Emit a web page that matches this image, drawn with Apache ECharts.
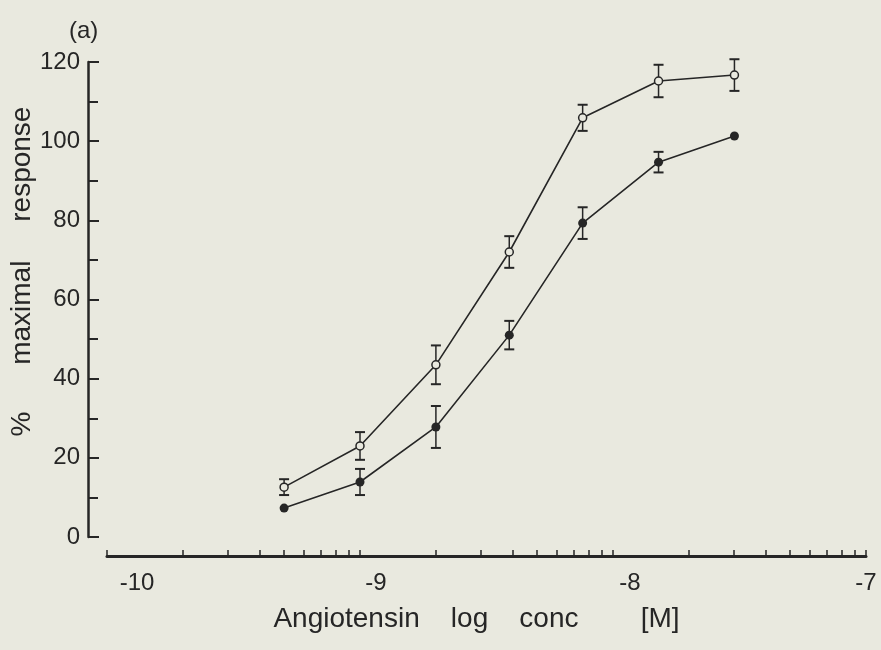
<!DOCTYPE html>
<html>
<head>
<meta charset="utf-8">
<script src="https://cdn.jsdelivr.net/npm/echarts@6/dist/echarts.min.js"></script>
<style>
  html, body { margin: 0; padding: 0; background: #e9e9df; }
  #chart { width: 881px; height: 650px; }
</style>
</head>
<body>
<div id="chart"></div>
<script>
// ---- data ----
const xLabelValues = [-10, -9, -8, -7];
const xTickLabels = ['-10', '-9', '-8', '-7'];
const decades = [-10, -9, -8];
const logConc = [-9.30, -9.00, -8.70, -8.41, -8.12, -7.82, -7.52];
const openMean = [12.6, 23.0, 43.5, 72.0, 105.9, 115.2, 116.7];
const openSem = [2.0, 3.5, 4.9, 4.0, 3.3, 4.1, 4.0];
const filledMean = [7.3, 13.9, 27.8, 51.0, 79.3, 94.7, 101.3];
const filledSem = [0, 3.3, 5.3, 3.6, 4.0, 2.6, 0];

// log-scale minor tick positions (1..9 x 10^d)
const xTickValues = [];
decades.forEach(d => { for (let k = 1; k <= 9; k++) xTickValues.push(d + Math.log10(k)); });
xTickValues.push(-7);

const ink = '#262626';
const bg = '#e9e9df';
const font = '"Liberation Sans", Arial, sans-serif';

function errData(means, sems) {
  return logConc.map((x, i) => [x, means[i] - sems[i], means[i] + sems[i], sems[i]]);
}

function renderErr(params, api) {
  if (api.value(3) <= 0) return null;
  const x = api.value(0);
  const lo = api.coord([x, api.value(1)]);
  const hi = api.coord([x, api.value(2)]);
  const w = 5;
  const style = { stroke: ink, lineWidth: 2 };
  return {
    type: 'group',
    children: [
      { type: 'line', shape: { x1: lo[0], y1: lo[1], x2: hi[0], y2: hi[1] }, style: { stroke: ink, lineWidth: 1.5 } },
      { type: 'line', shape: { x1: hi[0] - w, y1: hi[1], x2: hi[0] + w, y2: hi[1] }, style },
      { type: 'line', shape: { x1: lo[0] - w, y1: lo[1], x2: lo[0] + w, y2: lo[1] }, style }
    ]
  };
}

const labelShift = { '-10': 30, '-9': 16, '-8': 17, '-7': 0 };
const rich = {};
Object.keys(labelShift).forEach((k, i) => {
  rich['s' + i] = { fontSize: 24, fontFamily: font, color: ink, padding: [0, 0, 0, labelShift[k] * 2] };
});

const chart = echarts.init(document.getElementById('chart'));
chart.setOption({
  backgroundColor: bg,
  animation: false,
  title: {
    text: '(a)', left: 64, top: 14,
    textStyle: { fontSize: 24, fontWeight: 'normal', fontFamily: font, color: ink }
  },
  grid: { left: 107, right: 15, top: 62, bottom: 113, outerBoundsMode: 'none', containLabel: false },
  xAxis: {
    type: 'value', min: -10, max: -7, interval: 1, offset: 19,
    name: 'Angiotensin    log    conc        [M]',
    nameLocation: 'middle', nameGap: 49, nameMoveOverlap: false,
    nameTextStyle: { fontSize: 28, fontFamily: font, color: ink, padding: [0, 20, 0, 0] },
    axisLine: { show: true, onZero: false, lineStyle: { color: ink, width: 3, cap: 'round' } },
    axisTick: { show: true, inside: true, length: 6, customValues: xTickValues, lineStyle: { color: ink, width: 1.5 } },
    axisLabel: {
      show: true, margin: 15, customValues: xLabelValues,
      formatter: v => { const i = xLabelValues.indexOf(Math.round(v)); return '{s' + i + '|' + xTickLabels[i] + '}'; },
      rich: rich
    },
    splitLine: { show: false }
  },
  yAxis: {
    type: 'value', min: 0, max: 120, interval: 20, offset: 19,
    name: '%      maximal     response',
    nameLocation: 'middle', nameGap: 52, nameRotate: 90, nameMoveOverlap: false,
    nameTextStyle: { fontSize: 28, fontFamily: font, color: ink, padding: [0, 0, 0, 56] },
    axisLine: { show: true, onZero: false, lineStyle: { color: ink, width: 2.5 } },
    axisTick: { show: true, inside: true, length: 11, lineStyle: { color: ink, width: 2 } },
    minorTick: { show: true, splitNumber: 2, length: 10, lineStyle: { color: ink, width: 2 } },
    axisLabel: { margin: 8, fontSize: 24, fontFamily: font, color: ink },
    splitLine: { show: false }
  },
  series: [
    {
      type: 'custom', name: 'open err', renderItem: renderErr,
      data: errData(openMean, openSem), encode: { x: 0, y: [1, 2] }, z: 1
    },
    {
      type: 'custom', name: 'filled err', renderItem: renderErr,
      data: errData(filledMean, filledSem), encode: { x: 0, y: [1, 2] }, z: 1
    },
    {
      type: 'line', name: 'open',
      data: logConc.map((x, i) => [x, openMean[i]]),
      symbol: 'circle', symbolSize: 8,
      itemStyle: { color: bg, borderColor: ink, borderWidth: 1.5 },
      lineStyle: { color: ink, width: 1.6 }, z: 3
    },
    {
      type: 'line', name: 'filled',
      data: logConc.map((x, i) => [x, filledMean[i]]),
      symbol: 'circle', symbolSize: 9,
      itemStyle: { color: ink, borderColor: ink, borderWidth: 0 },
      lineStyle: { color: ink, width: 1.6 }, z: 3
    }
  ]
});
</script>
</body>
</html>
